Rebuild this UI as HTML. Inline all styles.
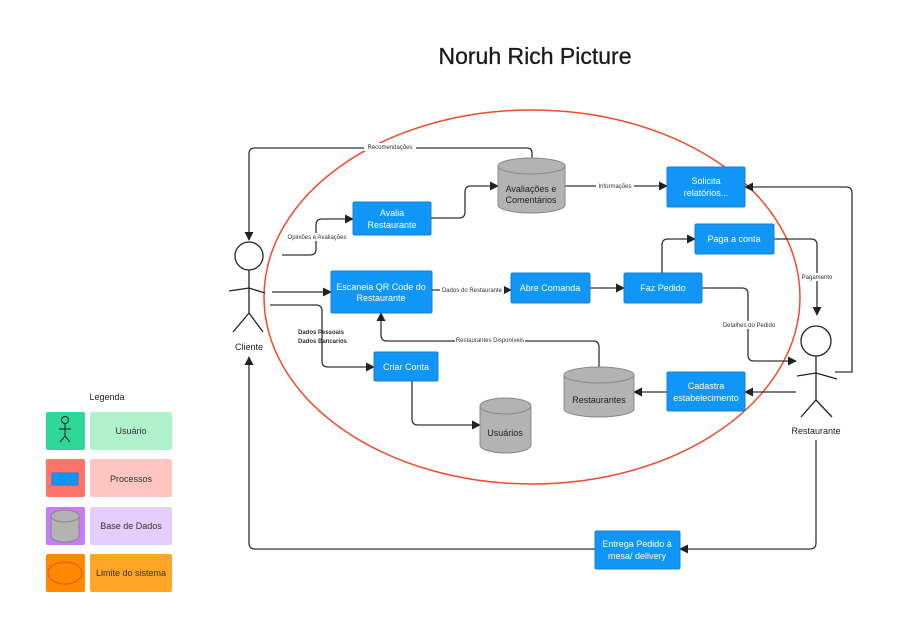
<!DOCTYPE html>
<html><head><meta charset="utf-8"><style>
body{margin:0;background:#fff}
svg{display:block;font-family:"Liberation Sans",sans-serif}
</style></head><body>
<svg width="900" height="639" viewBox="0 0 900 639" xmlns="http://www.w3.org/2000/svg">
<defs>
<marker id="a" viewBox="0 0 10 10" refX="9" refY="5" markerWidth="7" markerHeight="7" orient="auto"><path d="M0,0 L10,5 L0,10z" fill="#222"/></marker>
</defs>
<rect width="900" height="639" fill="#fff"/>
<text x="535" y="64" font-size="23" text-anchor="middle" fill="#1a1a1a" stroke="#1a1a1a" stroke-width="0.3">Noruh Rich Picture</text>

<ellipse cx="532" cy="297" rx="268" ry="187" fill="none" stroke="#f04a2c" stroke-width="1.5"/>

<g fill="none" stroke="#333" stroke-width="1.3" marker-end="url(#a)">
<path d="M532,158 V153 Q532,148 527,148 H255 Q249,148 249,154 V240"/>
<path d="M282,255 H310 Q316,255 316,249 V225 Q316,219 322,219 H353"/>
<path d="M431,218 H459 Q465,218 465,212 V192 Q465,186 471,186 H498"/>
<path d="M565,186 H667"/>
<path d="M272,292 H331"/>
<path d="M270,305 H316 Q322,305 322,311 V361 Q322,367 328,367 H374"/>
<path d="M432,290 H511"/>
<path d="M590,288 H624"/>
<path d="M662,273 V245 Q662,239 668,239 H695"/>
<path d="M774,239 H811 Q817,239 817,245 V315"/>
<path d="M702,288 H742 Q748,288 748,294 V355 Q748,361 754,361 H796"/>
<path d="M599,367 V347 Q599,341 593,341 H387 Q381,341 381,335 V313"/>
<path d="M796,392 H745"/>
<path d="M667,392 H634"/>
<path d="M835,372 H852 V193 Q852,187 846,187 H745"/>
<path d="M412,381 V419 Q412,425 418,425 H480"/>
<path d="M816,440 V543 Q816,549 810,549 H680"/>
<path d="M595,549 H255 Q249,549 249,543 V357"/>
</g>

<g font-size="6" fill="#333" text-anchor="middle">
<rect x="364" y="143" width="52" height="8" fill="#fff"/><text x="390" y="149">Recomendações</text>
<rect x="286" y="233" width="62" height="8" fill="#fff"/><text x="317" y="239">Opiniões e Avaliações</text>
<rect x="596" y="182" width="38" height="8" fill="#fff"/><text x="615" y="188">Informações</text>
<rect x="440" y="286" width="64" height="8" fill="#fff"/><text x="472" y="292">Dados do Restaurante</text>
<rect x="800" y="273" width="34" height="8" fill="#fff"/><text x="817" y="279">Pagamento</text>
<rect x="722" y="321" width="54" height="8" fill="#fff"/><text x="749" y="327">Detalhes do Pedido</text>
<rect x="455" y="336" width="70" height="8" fill="#fff"/><text x="490" y="342">Restaurantes Disponíveis</text>
<text x="298" y="334" text-anchor="start" font-weight="bold">Dados Pessoais</text>
<text x="298" y="343" text-anchor="start" font-weight="bold">Dados Bancarios</text>
</g>

<g fill="#0f96f6" stroke="#1a7fd0" stroke-width="1">
<rect x="353" y="202" width="78" height="33" rx="1.5"/>
<rect x="331" y="271" width="101" height="42" rx="1.5"/>
<rect x="511" y="273" width="79" height="30" rx="1.5"/>
<rect x="624" y="273" width="78" height="30" rx="1.5"/>
<rect x="695" y="224" width="79" height="30" rx="1.5"/>
<rect x="667" y="167" width="78" height="40" rx="1.5"/>
<rect x="667" y="372" width="78" height="39" rx="1.5"/>
<rect x="374" y="352" width="64" height="29" rx="1.5"/>
<rect x="595" y="531" width="85" height="38" rx="1.5"/>
</g>
<g fill="#fff" font-size="9" text-anchor="middle">
<text x="392" y="216">Avalia</text><text x="392" y="228">Restaurante</text>
<text x="381" y="290">Escaneia QR Code do</text><text x="381" y="301">Restaurante</text>
<text x="550" y="291">Abre Comanda</text>
<text x="663" y="291">Faz Pedido</text>
<text x="734" y="242">Paga a conta</text>
<text x="706" y="184">Solicita</text><text x="706" y="196">relatórios...</text>
<text x="706" y="389">Cadastra</text><text x="706" y="401">estabelecimento</text>
<text x="406" y="370">Criar Conta</text>
<text x="637" y="547">Entrega Pedido à</text><text x="637" y="559">mesa/ delivery</text>
</g>

<g fill="#b3b3b3" stroke="#888" stroke-width="1">
<path d="M498,166 V205 A33.5,8 0 0 0 565,205 V166"/><ellipse cx="531.5" cy="166" rx="33.5" ry="8"/>
<path d="M564,375 V409 A35,8 0 0 0 634,409 V375"/><ellipse cx="599" cy="375" rx="35" ry="8"/>
<path d="M480,406 V445 A25.5,8 0 0 0 531,445 V406"/><ellipse cx="505.5" cy="406" rx="25.5" ry="8"/>
</g>
<g fill="#222" font-size="9" text-anchor="middle">
<text x="531" y="192">Avaliações e</text><text x="531" y="203">Comentários</text>
<text x="599" y="403">Restaurantes</text>
<text x="505" y="436">Usuários</text>
</g>

<g fill="none" stroke="#222" stroke-width="1.3">
<circle cx="249" cy="256" r="14"/>
<path d="M249,270 V313 M229,291 L249,288 L265,293 M233,332 L249,313 L263,332"/>
<circle cx="816" cy="341" r="15"/>
<path d="M816,356 V400 M797,376 L816,373 L837,379 M801,417 L816,400 L832,417"/>
</g>
<text x="249" y="350" font-size="9" text-anchor="middle" fill="#222">Cliente</text>
<text x="816" y="434" font-size="9" text-anchor="middle" fill="#222">Restaurante</text>

<text x="107" y="400" font-size="9" text-anchor="middle" fill="#222">Legenda</text>
<rect x="46" y="412" width="39" height="38" rx="2" fill="#2fd899"/><rect x="90" y="412" width="82" height="38" rx="2" fill="#b0f2cc"/>
<rect x="46" y="459" width="39" height="38" rx="2" fill="#ff7369"/><rect x="90" y="459" width="82" height="38" rx="2" fill="#ffc5c0"/>
<rect x="46" y="507" width="39" height="38" rx="2" fill="#c97cf7"/><rect x="90" y="507" width="82" height="38" rx="2" fill="#e5cdfc"/>
<rect x="46" y="554" width="39" height="38" rx="2" fill="#ff8a00"/><rect x="90" y="554" width="82" height="38" rx="2" fill="#ffa629"/>
<g fill="none" stroke="#222" stroke-width="1">
<circle cx="65" cy="420" r="3.5"/><path d="M65,423.5 V436 M59,429 H71 M60,442 L65,436 L70,442"/>
</g>
<rect x="52" y="473" width="26" height="12" fill="#0f96f6" stroke="#1a7fd0"/>
<g fill="#b3b3b3" stroke="#888"><path d="M51,516 V536 A14,6 0 0 0 79,536 V516"/><ellipse cx="65" cy="516" rx="14" ry="6"/></g>
<ellipse cx="65" cy="573" rx="17" ry="11" fill="none" stroke="#f04a2c"/>
<g fill="#333" font-size="9" text-anchor="middle">
<text x="131" y="434">Usuário</text>
<text x="131" y="482">Processos</text>
<text x="131" y="529">Base de Dados</text>
<text x="131" y="576">Limite do sistema</text>
</g>
</svg>
</body></html>
